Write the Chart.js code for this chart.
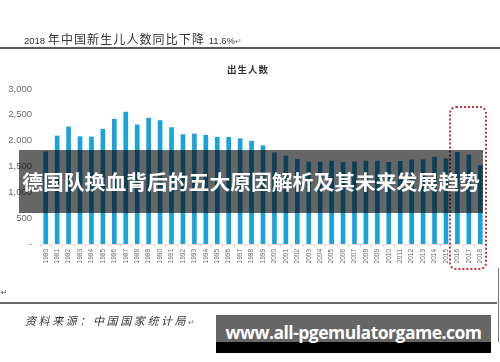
<!DOCTYPE html>
<html>
<head>
<meta charset="utf-8">
<script src="https://cdn.jsdelivr.net/npm/chart.js@4.4.0/dist/chart.umd.min.js"></script>
<style>
  html, body { margin: 0; padding: 0; background: #fff; }
  #wrap { position: relative; width: 500px; height: 362px; overflow: hidden; background: #fff; }
  #chart { position: absolute; left: 0; top: 0; }
  .abs { position: absolute; white-space: nowrap; }
  #title { left: 24px; top: 30px; font-family: "Noto Sans CJK SC", sans-serif; color: #333; font-size: 12px; letter-spacing: 1.1px; }
  #title .num { font-family: "Liberation Sans", sans-serif; font-size: 9.5px; letter-spacing: 0px; }
  #rule1 { left: 0; top: 47px; width: 500px; height: 2px; background: #5a5a5a; }
  #rule2 { left: 0; top: 302px; width: 497px; height: 2px; background: #6a6a6a; }
  #vline { left: 498px; top: 268px; width: 1px; height: 74px; background: #777; }
  #sub { left: 227px; top: 62px; font-family: "Noto Sans CJK SC", serif; font-weight: bold; font-size: 9.5px; letter-spacing: 1px; color: #333; }
  #box { left: 449px; top: 106px; width: 34px; height: 160px; border: 2px dotted #c0343c; border-radius: 7px; }
  #band { left: 19px; top: 150px; width: 464px; height: 63px; background: rgba(0,0,0,0.6); }
  #bandtxt { left: 19px; top: 150px; width: 464px; height: 63px; line-height: 63px; text-align: center; color: #fff; font-family: "Noto Sans CJK SC", sans-serif; font-weight: bold; font-size: 20.8px; }
  #src { left: 25px; top: 312px; font-family: "Noto Sans CJK SC", serif; font-style: italic; font-size: 11px; letter-spacing: 2.6px; color: #333; }
  #ret { left: 1px; top: 288px; font-size: 8px; color: #555; font-family: "DejaVu Sans", sans-serif; }
  #wm1 { left: 216px; top: 315px; width: 275px; height: 27px; background: #666; }
  #wm2 { left: 216px; top: 342px; width: 275px; height: 11px; background: #000; }
  #wmtxt { left: 216px; top: 319px; width: 275px; text-align: center; color: #fff; font-family: "Open Sans", sans-serif; font-weight: bold; font-size: 17.5px; line-height: 26px; letter-spacing: -0.5px; }
</style>
</head>
<body>
<div id="wrap">
  <canvas id="chart" width="500" height="362"></canvas>
  <div class="abs" id="title"><span class="num">2018 </span>年中国新生儿人数同比下降 <span class="num">11.6%</span><span style="font-size:8px;color:#777">↵</span></div>
  <div class="abs" id="rule1"></div>
  <div class="abs" id="sub">出生人数</div>
  <div class="abs" id="box"></div>
  <div class="abs" id="band"></div>
  <div class="abs" id="bandtxt">德国队换血背后的五大原因解析及其未来发展趋势</div>
  <div class="abs" id="ret">↵</div>
  <div class="abs" id="rule2"></div>
  <div class="abs" id="vline"></div>
  <div class="abs" id="src">资料来源：中国国家统计局<span style="font-style:normal;font-size:8px;color:#777">↵</span></div>
  <div class="abs" id="wm1"></div>
  <div class="abs" id="wm2"></div>
  <div class="abs" id="wmtxt">www.all-pgemulatorgame.com</div>
</div>
<script>
// 出生人数（万人）
var years = ['1980', '1981', '1982', '1983', '1984', '1985', '1986', '1987', '1988', '1989',
             '1990', '1991', '1992', '1993', '1994', '1995', '1996', '1997', '1998', '1999',
             '2000', '2001', '2002', '2003', '2004', '2005', '2006', '2007', '2008', '2009',
             '2010', '2011', '2012', '2013', '2014', '2015', '2016', '2017', '2018'];
var births = [1786, 2091, 2267, 2078, 2072, 2221, 2416, 2552, 2305, 2435,
              2390, 2253, 2117, 2130, 2105, 2066, 2066, 2039, 1990, 1903,
              1767, 1702, 1638, 1586, 1586, 1605, 1580, 1592, 1605, 1605,
              1580, 1600, 1631, 1631, 1683, 1650, 1774, 1722, 1521];
var yTicks = [0, 500, 1000, 1500, 2000, 2500, 3000];

function fmt(v) {
    if (v === 0) return '-';
    var s = String(v);
    return s.length > 3 ? s.slice(0, s.length - 3) + ',' + s.slice(-3) : s;
}

var ctx = document.getElementById('chart');
var chart = new Chart(ctx, {
    type: 'bar',
    data: {
        labels: years,
        datasets: [{
            data: births,
            backgroundColor: '#19a3dd',
            barThickness: 4
        }]
    },
    options: {
        responsive: false,
        animation: false,
        layout: { padding: { left: 0, top: 89, right: 14, bottom: 88 } },
        plugins: { legend: { display: false }, tooltip: { enabled: false } },
        scales: {
            x: {
                offset: true,
                afterFit: function(scale) { scale.height = 30; },
                grid: { display: true, drawOnChartArea: false, color: '#f3cdb4', tickLength: 3 },
                border: { display: true, color: '#ecdcd2' },
                ticks: {
                    autoSkip: false,
                    minRotation: 90,
                    maxRotation: 90,
                    padding: 2,
                    color: '#6a6a6a',
                    font: { family: 'Liberation Sans', size: 6.5 }
                }
            },
            y: {
                min: 0,
                max: 3000,
                afterFit: function(scale) { scale.width = 40; },
                afterBuildTicks: function(scale) {
                    scale.ticks = yTicks.map(function(v) { return { value: v }; });
                },
                grid: { display: false, drawTicks: false },
                border: { display: false },
                ticks: {
                    padding: 8,
                    color: '#6a6a6a',
                    font: { family: 'Liberation Sans', size: 9.5 },
                    callback: function(v) { return fmt(v); }
                }
            }
        }
    }
});
</script>
</body>
</html>
